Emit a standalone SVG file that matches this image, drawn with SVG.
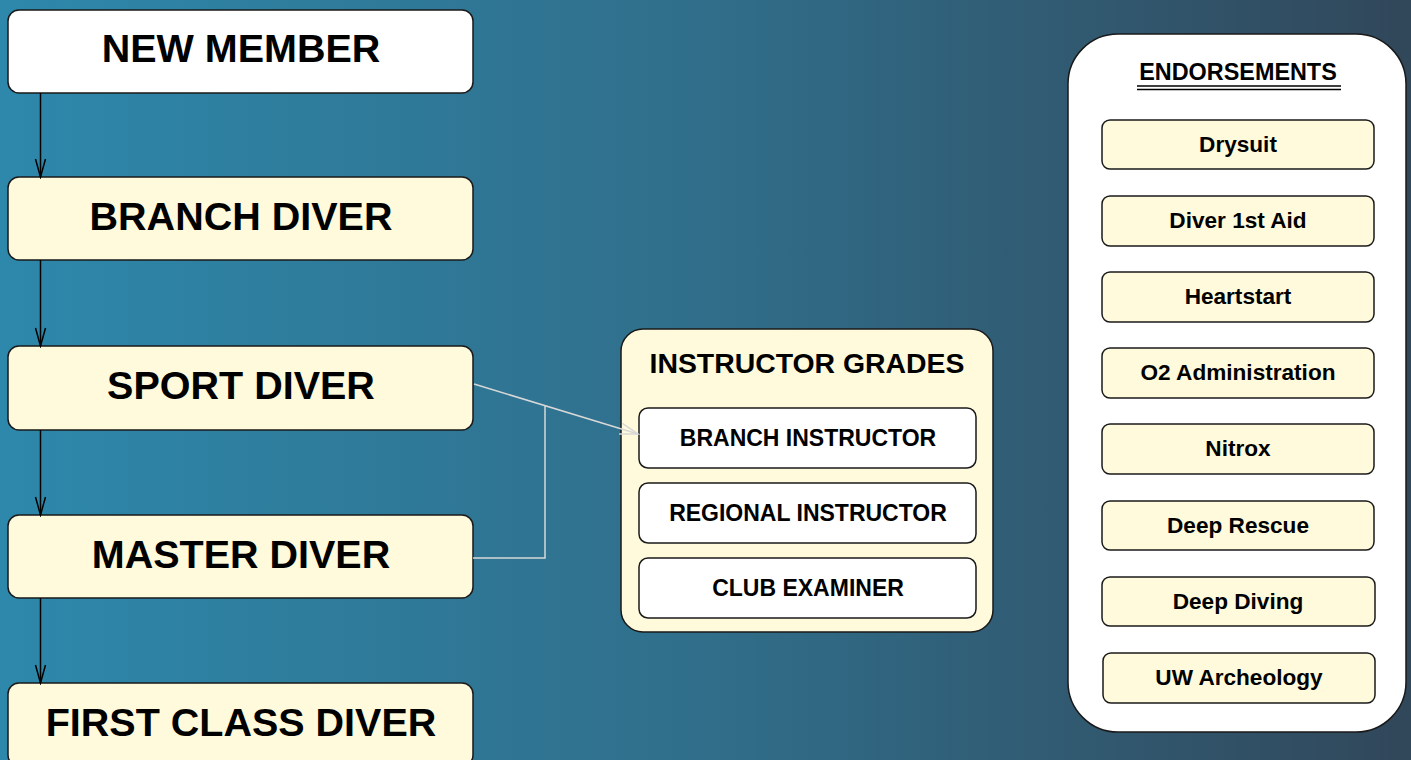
<svg xmlns="http://www.w3.org/2000/svg" width="1411" height="760" viewBox="0 0 1411 760">
<defs>
<linearGradient id="bg" x1="0" y1="0" x2="1" y2="0">
<stop offset="0" stop-color="#2D88AB"/>
<stop offset="0.5" stop-color="#306E8A"/>
<stop offset="1" stop-color="#31475A"/>
</linearGradient>
<marker id="arrBlack" markerWidth="22" markerHeight="14" viewBox="0 0 22 14" refX="20" refY="7" orient="auto" markerUnits="userSpaceOnUse">
<path d="M2,2 L20,7 L2,12" fill="none" stroke="#000" stroke-width="1.5"/>
</marker>
<marker id="arrGray" markerWidth="22" markerHeight="14" viewBox="0 0 22 14" refX="20" refY="7" orient="auto" markerUnits="userSpaceOnUse">
<path d="M2,1.5 L20,7 L2,12.5" fill="none" stroke="#D8D8D8" stroke-width="1.5"/>
</marker>
</defs>
<style>
.box{stroke:#1a1a1a;stroke-width:1.5}
.yellow{fill:#FFFADB}
.white{fill:#FFFFFF}
.big{font-family:"Liberation Sans",Arial,sans-serif;font-weight:bold;font-size:39.5px;fill:#000;text-anchor:middle}
.mid{font-family:"Liberation Sans",Arial,sans-serif;font-weight:bold;font-size:28.4px;fill:#000;text-anchor:middle}
.small{font-family:"Liberation Sans",Arial,sans-serif;font-weight:bold;font-size:23px;fill:#000;text-anchor:middle}
.end{font-family:"Liberation Sans",Arial,sans-serif;font-weight:bold;font-size:22.6px;fill:#000;text-anchor:middle}
.conn{fill:none;stroke:#000;stroke-width:1.5}
.gconn{fill:none;stroke:#D8D8D8;stroke-width:1.5}
</style>
<rect x="0" y="0" width="1411" height="760" fill="url(#bg)"/>

<g id="new-member">
<rect class="box white" x="8" y="10" width="465" height="83" rx="11"/>
<text class="big" x="241" y="62">NEW MEMBER</text>
</g>
<g id="branch-diver">
<rect class="box yellow" x="8" y="177" width="465" height="83" rx="11"/>
<text class="big" x="241" y="230">BRANCH DIVER</text>
</g>
<g id="sport-diver">
<rect class="box yellow" x="8" y="346" width="465" height="84" rx="11"/>
<text class="big" x="241" y="399">SPORT DIVER</text>
</g>
<g id="master-diver">
<rect class="box yellow" x="8" y="515" width="465" height="83" rx="11"/>
<text class="big" x="241" y="568">MASTER DIVER</text>
</g>
<g id="first-class-diver">
<rect class="box yellow" x="8" y="683" width="465" height="83" rx="11"/>
<text class="big" x="241" y="736">FIRST CLASS DIVER</text>
</g>

<g id="instructor-grades">
<rect class="box yellow" x="621" y="329" width="372" height="303" rx="22"/>
<text class="mid" x="807" y="373">INSTRUCTOR GRADES</text>
</g>
<g id="branch-instructor">
<rect class="box white" x="639" y="408" width="337" height="60" rx="9"/>
<text class="small" x="808" y="446">BRANCH INSTRUCTOR</text>
</g>
<g id="regional-instructor">
<rect class="box white" x="639" y="483" width="337" height="60" rx="9"/>
<text class="small" x="808" y="521">REGIONAL INSTRUCTOR</text>
</g>
<g id="club-examiner">
<rect class="box white" x="639" y="558" width="337" height="60" rx="9"/>
<text class="small" x="808" y="596">CLUB EXAMINER</text>
</g>

<g id="endorsements">
<rect class="box white" x="1068" y="34" width="338" height="698" rx="50"/>
<text class="end" x="1238" y="80" style="font-size:23.4px">ENDORSEMENTS</text>
<line x1="1137" y1="86" x2="1341" y2="86" stroke="#000" stroke-width="1.6"/>
<line x1="1137" y1="89.5" x2="1341" y2="89.5" stroke="#000" stroke-width="1.6"/>
</g>
<g id="drysuit">
<rect class="box yellow" x="1102" y="120" width="272" height="49" rx="8"/>
<text class="end" x="1238" y="152">Drysuit</text>
</g>
<g id="diver-1st-aid">
<rect class="box yellow" x="1102" y="196" width="272" height="50" rx="8"/>
<text class="end" x="1238" y="228">Diver 1st Aid</text>
</g>
<g id="heartstart">
<rect class="box yellow" x="1102" y="272" width="272" height="50" rx="8"/>
<text class="end" x="1238" y="304">Heartstart</text>
</g>
<g id="o2-administration">
<rect class="box yellow" x="1102" y="348" width="272" height="50" rx="8"/>
<text class="end" x="1238" y="380">O2 Administration</text>
</g>
<g id="nitrox">
<rect class="box yellow" x="1102" y="424" width="272" height="50" rx="8"/>
<text class="end" x="1238" y="456">Nitrox</text>
</g>
<g id="deep-rescue">
<rect class="box yellow" x="1102" y="501" width="272" height="49" rx="8"/>
<text class="end" x="1238" y="533">Deep Rescue</text>
</g>
<g id="deep-diving">
<rect class="box yellow" x="1102" y="577" width="273" height="49" rx="8"/>
<text class="end" x="1238" y="609">Deep Diving</text>
</g>
<g id="uw-archeology">
<rect class="box yellow" x="1103" y="653" width="272" height="50" rx="8"/>
<text class="end" x="1239" y="685">UW Archeology</text>
</g>

<g id="connectors">
<line class="conn" x1="40.5" y1="93" x2="40.5" y2="177" marker-end="url(#arrBlack)"/>
<line class="conn" x1="40.5" y1="260" x2="40.5" y2="346" marker-end="url(#arrBlack)"/>
<line class="conn" x1="40.5" y1="430" x2="40.5" y2="515" marker-end="url(#arrBlack)"/>
<line class="conn" x1="40.5" y1="598" x2="40.5" y2="683" marker-end="url(#arrBlack)"/>
<line class="gconn" x1="474" y1="384" x2="638" y2="434" marker-end="url(#arrGray)"/>
<polyline class="gconn" points="473,558 545,558 545,406"/>
</g>
</svg>
